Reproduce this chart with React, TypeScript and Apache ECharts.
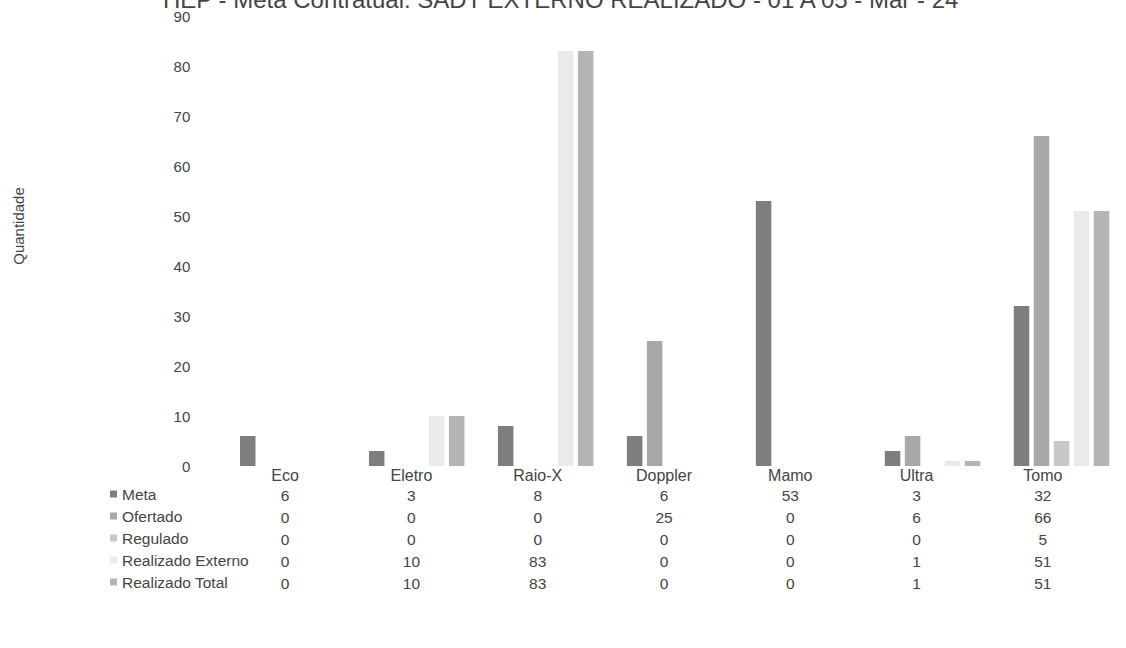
import React, { useEffect, useRef } from "react";
import * as echarts from "echarts";

const titleText = "HEP - Meta Contratual: SADT EXTERNO REALIZADO - 01 A 05 - Mar - 24";
const yAxisName = "Quantidade";
const categories = ["Eco", "Eletro", "Raio-X", "Doppler", "Mamo", "Ultra", "Tomo"];
const seriesNames = ["Meta", "Ofertado", "Regulado", "Realizado Externo", "Realizado Total"];
const meta = [6, 3, 8, 6, 53, 3, 32];
const ofertado = [0, 0, 0, 25, 0, 6, 66];
const regulado = [0, 0, 0, 0, 0, 0, 5];
const realizadoExterno = [0, 10, 83, 0, 0, 1, 51];
const realizadoTotal = [0, 10, 83, 0, 0, 1, 51];
const yMin = 0;
const yMax = 90;
const yInterval = 10;

const seriesValues = [meta, ofertado, regulado, realizadoExterno, realizadoTotal];
const colors = ["#7e7e7e", "#a8a8a8", "#c8c8c8", "#eaeaea", "#b4b4b4"];
const FONT = "Liberation Sans, Arial, sans-serif";
const TEXT = "#444444";

export default function App() {
  const ref = useRef<HTMLDivElement>(null);
  useEffect(() => {
    if (!ref.current) return;
    const chart = echarts.init(ref.current, undefined, { renderer: "svg" });
    const option: any = {
      animation: false,
      backgroundColor: "#ffffff",
      textStyle: { fontFamily: FONT },
      color: colors,
      graphic: [
        {
          type: "text",
          x: 163,
          y: -13,
          style: { text: titleText, font: `24px ${FONT}`, fill: TEXT },
        },
        {
          type: "text",
          x: 18,
          y: 226,
          rotation: Math.PI / 2,
          style: {
            text: yAxisName,
            font: `15px ${FONT}`,
            fill: TEXT,
            textAlign: "center",
            textVerticalAlign: "middle",
          },
        },
      ],
      legend: {
        orient: "vertical",
        left: 110,
        top: 483,
        padding: 0,
        itemGap: 0,
        itemWidth: 7,
        itemHeight: 7,
        icon: "rect",
        data: seriesNames,
        textStyle: { fontSize: 15.5, color: TEXT, lineHeight: 22, fontFamily: FONT },
      },
      grid: [
        { left: 223.25, width: 913.5, top: 16, height: 450 },
        { left: 222, width: 884, top: 466, height: 1 },
      ],
      xAxis: [
        {
          type: "category",
          gridIndex: 0,
          data: categories,
          axisLine: { show: false },
          axisTick: { show: false },
          axisLabel: { show: false },
        },
        {
          type: "category",
          gridIndex: 1,
          data: categories,
          axisLine: { show: false },
          axisTick: { show: false },
          axisLabel: {
            margin: -1,
            interval: 0,
            formatter: (value: string, idx: number) => {
              const lines = [`{c|${value}}`];
              seriesValues.forEach((arr) => lines.push(`{v|${arr[idx]}}`));
              return lines.join("\n");
            },
            rich: {
              c: { fontSize: 16, lineHeight: 18, color: TEXT, fontFamily: FONT },
              v: { fontSize: 15.5, lineHeight: 22, color: TEXT, fontFamily: FONT },
            },
          },
        },
      ],
      yAxis: [
        {
          type: "value",
          gridIndex: 0,
          min: yMin,
          max: yMax,
          interval: yInterval,
          axisLine: { show: false },
          axisTick: { show: false },
          splitLine: { show: false },
          axisLabel: { margin: 33, fontSize: 15, color: TEXT, fontFamily: FONT },
        },
        { type: "value", gridIndex: 1, show: false },
      ],
      series: seriesNames.map((name, i) => ({
        name,
        type: "bar",
        xAxisIndex: 0,
        yAxisIndex: 0,
        data: seriesValues[i],
        barWidth: 15.5,
        barGap: "29%",
        itemStyle: { color: colors[i] },
      })),
    };
    chart.setOption(option);
    return () => chart.dispose();
  }, []);
  return <div ref={ref} style={{ width: 1126, height: 648, position: "absolute", left: 0, top: 0 }} />;
}
